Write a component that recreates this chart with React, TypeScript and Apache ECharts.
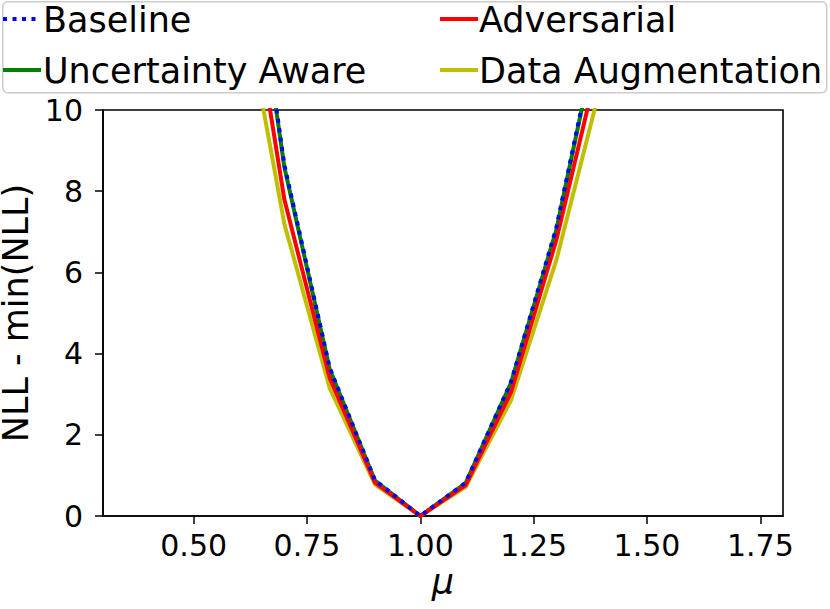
import React, { useEffect, useRef } from "react";
import * as echarts from "echarts";

const muValues = [0.6, 0.7, 0.8, 0.9, 1.0, 1.1, 1.2, 1.3, 1.4];
const baseline = [16.5, 8.65, 3.65, 0.88, 0, 0.82, 3.3, 7.1, 12.4];
const uncertaintyAware = [16.4, 8.6, 3.62, 0.87, 0, 0.81, 3.28, 7.05, 12.35];
const adversarial = [14.8, 7.8, 3.4, 0.82, 0, 0.76, 3.05, 6.8, 11.5];
const dataAugmentation = [13.3, 7.2, 3.15, 0.78, 0, 0.72, 2.85, 6.3, 10.7];
const xTicks = [0.5, 0.75, 1.0, 1.25, 1.5, 1.75];

const FONT = "DejaVu Sans";
const LW = 4;
const DOTS = [4, 5.5];

const COLORS: Record<string, string> = {
  Baseline: "#0000ff",
  "Uncertainty Aware": "#008000",
  Adversarial: "#ff0000",
  "Data Augmentation": "#bfbf00",
};

const pairs = (ys: number[]) => muValues.map((x, i) => [x, ys[i]]);

export default function App() {
  const ref = useRef<HTMLDivElement>(null);
  useEffect(() => {
    if (!ref.current) return;
    const chart = echarts.init(ref.current, null, { renderer: "svg" });
    const mk = (name: string, data: number[], type: any, z: number) => ({
      name,
      type: "line",
      data: pairs(data),
      symbol: "none",
      showSymbol: false,
      clip: true,
      z,
      lineStyle: { color: COLORS[name], width: LW, type, cap: "butt", join: "miter" },
      itemStyle: { color: COLORS[name] },
    });
    const handle = (name: string, x: number, y: number, dashed: boolean) => ({
      type: "line",
      shape: { x1: x, y1: y, x2: x + 38, y2: y },
      style: {
        stroke: COLORS[name],
        lineWidth: LW,
        lineDash: dashed ? DOTS : null,
        lineCap: "butt",
      },
      z: 10,
    });
    const legendText = { fontFamily: FONT, fontSize: 35, color: "#000", lineHeight: 34 };
    const legendBase = {
      orient: "vertical",
      top: 2,
      padding: 0,
      itemGap: 16,
      itemWidth: 38,
      itemHeight: 14,
      icon: "none",
      textStyle: legendText,
      z: 5,
    };
    chart.setOption({
      animation: false,
      backgroundColor: "#fff",
      grid: {
        left: 103,
        right: 47,
        top: 110,
        bottom: 93,
        containLabel: false,
        outerBoundsMode: "none",
        show: true,
        borderColor: "#000",
        borderWidth: 1.6,
        backgroundColor: "transparent",
      },
      graphic: [
        {
          type: "rect",
          left: 2,
          top: 1,
          shape: { width: 824, height: 91, r: 5 },
          style: { fill: "rgba(255,255,255,0.8)", stroke: "#cccccc", lineWidth: 1.5 },
          z: 0,
        },
        handle("Baseline", 3, 19, true),
        handle("Uncertainty Aware", 3, 70, false),
        handle("Adversarial", 440, 19, false),
        handle("Data Augmentation", 440, 70, false),
      ],
      legend: [
        {
          ...legendBase,
          left: 0,
          data: [
            { name: "Baseline", icon: "none" },
            { name: "Uncertainty Aware", icon: "none" },
          ],
        },
        {
          ...legendBase,
          left: 436,
          data: [
            { name: "Adversarial", icon: "none" },
            { name: "Data Augmentation", icon: "none" },
          ],
        },
      ],
      xAxis: {
        type: "value",
        min: 0.3,
        max: 1.8,
        name: "μ",
        nameLocation: "middle",
        nameGap: 48,
        nameTextStyle: { fontFamily: FONT, fontSize: 35, fontStyle: "italic", color: "#000" },
        splitLine: { show: false },
        axisLine: { show: true, onZero: false, lineStyle: { color: "#000", width: 1.6 } },
        axisTick: {
          show: true,
          inside: false,
          length: 8,
          lineStyle: { color: "#000", width: 1.5 },
          customValues: xTicks,
        },
        axisLabel: {
          fontFamily: FONT,
          fontSize: 30,
          color: "#000",
          margin: 14,
          customValues: xTicks,
          formatter: (v: number) => v.toFixed(2),
        },
      },
      yAxis: {
        type: "value",
        min: 0,
        max: 10,
        interval: 2,
        name: "NLL - min(NLL)",
        nameLocation: "middle",
        nameRotate: 90,
        nameGap: 63,
        nameTextStyle: { fontFamily: FONT, fontSize: 35, lineHeight: 36, color: "#000" },
        splitLine: { show: false },
        axisLine: { show: true, onZero: false, lineStyle: { color: "#000", width: 1.6 } },
        axisTick: { show: true, inside: false, length: 8, lineStyle: { color: "#000", width: 1.5 } },
        axisLabel: { fontFamily: FONT, fontSize: 30, color: "#000", margin: 20 },
      },
      series: [
        mk("Data Augmentation", dataAugmentation, "solid", 2),
        mk("Uncertainty Aware", uncertaintyAware, "solid", 3),
        mk("Adversarial", adversarial, "solid", 4),
        mk("Baseline", baseline, DOTS, 5),
      ],
    });
    return () => chart.dispose();
  }, []);
  return (
    <div
      ref={ref}
      style={{ position: "fixed", left: 0, top: 0, width: 830, height: 609, background: "#fff" }}
    />
  );
}
